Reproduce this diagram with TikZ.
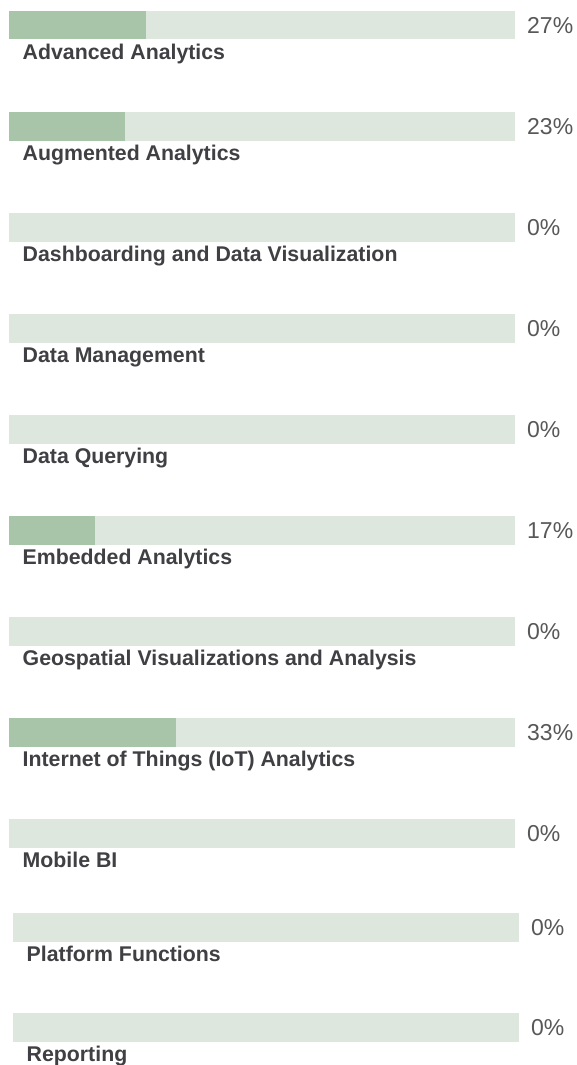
\documentclass[tikz,border=0pt]{standalone}
\usepackage{fontspec}
\setmainfont{Liberation Sans}
\definecolor{trackc}{RGB}{221,231,221}
\definecolor{fillc}{RGB}{169,197,169}
\definecolor{labc}{RGB}{64,64,68}
\definecolor{pctc}{RGB}{88,88,88}
\tikzset{
  track/.style={fill=trackc, draw=none, inner sep=0pt, outer sep=0pt, anchor=north west, minimum width=506pt, minimum height=28.5pt},
  barfill/.style={fill=fillc, draw=none, inner sep=0pt, outer sep=0pt, anchor=north west, minimum height=28.5pt},
  lab/.style={anchor=base west, inner sep=0pt, text=labc, font=\fontsize{21.3}{24}\selectfont\bfseries},
  pct/.style={anchor=base west, inner sep=0pt, text=pctc, font=\fontsize{23}{26}\selectfont}
}
\begin{document}
\begin{tikzpicture}[x=1pt,y=-1pt]
\useasboundingbox[fill=white] (0,0) rectangle (577,1065);
% 1
\node[track] (t1) at (9,11) {};
\node[barfill, minimum width=136.6pt] (f1) at (9,11) {};
\node[lab] (l1) at (22.5,59.5) {Advanced Analytics};
\node[pct] (p1) at (527,33.5) {27\%};
% 2
\node[track] (t2) at (9,112) {};
\node[barfill, minimum width=116.4pt] (f2) at (9,112) {};
\node[lab] (l2) at (22.5,160.5) {Augmented Analytics};
\node[pct] (p2) at (527,134.5) {23\%};
% 3
\node[track] (t3) at (9,213) {};
\node[lab] (l3) at (22.5,261.5) {Dashboarding and Data Visualization};
\node[pct] (p3) at (527,235.5) {0\%};
% 4
\node[track] (t4) at (9,314) {};
\node[lab] (l4) at (22.5,362.5) {Data Management};
\node[pct] (p4) at (527,336.5) {0\%};
% 5
\node[track] (t5) at (9,415) {};
\node[lab] (l5) at (22.5,463.5) {Data Querying};
\node[pct] (p5) at (527,437.5) {0\%};
% 6
\node[track] (t6) at (9,516) {};
\node[barfill, minimum width=86pt] (f6) at (9,516) {};
\node[lab] (l6) at (22.5,564.5) {Embedded Analytics};
\node[pct] (p6) at (527,538.5) {17\%};
% 7
\node[track] (t7) at (9,617) {};
\node[lab] (l7) at (22.5,665.5) {Geospatial Visualizations and Analysis};
\node[pct] (p7) at (527,639.5) {0\%};
% 8
\node[track] (t8) at (9,718) {};
\node[barfill, minimum width=167pt] (f8) at (9,718) {};
\node[lab] (l8) at (22.5,766.5) {Internet of Things (IoT) Analytics};
\node[pct] (p8) at (527,740.5) {33\%};
% 9
\node[track] (t9) at (9,819) {};
\node[lab] (l9) at (22.5,867.5) {Mobile BI};
\node[pct] (p9) at (527,841.5) {0\%};
% 10
\node[track] (t10) at (13,913) {};
\node[lab] (l10) at (26.5,961.5) {Platform Functions};
\node[pct] (p10) at (531,935.5) {0\%};
% 11
\node[track] (t11) at (13,1013) {};
\node[lab] (l11) at (26.5,1061.5) {Reporting};
\node[pct] (p11) at (531,1035.5) {0\%};
\end{tikzpicture}
\end{document}
